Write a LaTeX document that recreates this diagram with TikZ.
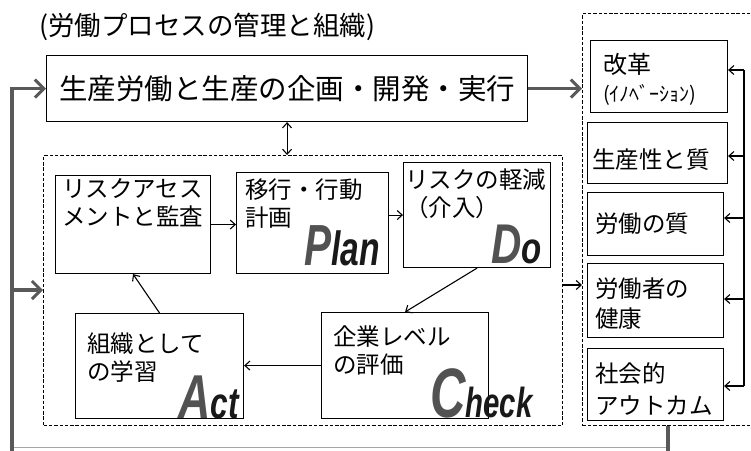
\documentclass[tikz,border=0pt]{standalone}
\usepackage{fontspec}
\newfontfamily\jp{Noto Sans CJK JP}
\newfontfamily\lat{Liberation Sans}
\usetikzlibrary{arrows.meta}
\begin{document}
\begin{tikzpicture}[x=1pt,y=-1pt,
  box/.style={draw=black, line width=1.1pt, anchor=north west, inner sep=0pt},
  dbox/.style={draw=black, line width=1.2pt, dash pattern=on 3.5pt off 1.8pt, anchor=north west, inner sep=0pt},
  txt/.style={anchor=base west, inner sep=0pt, align=left, font=\jp\fontsize{23.5}{28}\selectfont},
  thinarrow/.style={line width=1.1pt, -{Straight Barb[length=5pt,width=9pt]}},
  thickline/.style={line width=3.5pt, draw=black!65},
  thickarrow/.style={line width=3.5pt, draw=black!65, -{Straight Barb[length=9pt,width=18pt,line width=3pt]}},
  capl/.style={anchor=base west, inner sep=0pt, text=black!68},
]
\useasboundingbox (0,0) rectangle (751,450);

% title
\node[anchor=base west, inner sep=0pt, font=\jp\fontsize{26.5}{30}\selectfont] (title) at (39,35) {(労働プロセスの管理と組織)};

% top box
\node[box, minimum width=481pt, minimum height=66pt, font=\jp\fontsize{28.5}{34}\selectfont] (top) at (46,55) {生産労働と生産の企画・開発・実行};

% dashed containers
\node[dbox, minimum width=519pt, minimum height=270pt] (mid) at (43,155) {};
\node[dbox, minimum width=180pt, minimum height=412pt] (rdash) at (582,13) {};

% PDCA boxes
\node[box, minimum width=155pt, minimum height=98pt] (risk) at (55,175) {};
\node[box, minimum width=152pt, minimum height=101pt] (plan) at (236,172) {};
\node[box, minimum width=147pt, minimum height=105pt] (do) at (403,162) {};
\node[box, minimum width=168pt, minimum height=105pt] (act) at (75,313) {};
\node[box, minimum width=167pt, minimum height=106pt] (check) at (321,312) {};

\node[txt, text width=150pt] (risktxt) at (62,197) {リスクアセス\\メントと監査};
\node[txt, text width=145pt] (plantxt) at (245,198) {移行・行動\\計画};
\node[txt, text width=145pt] (dotxt) at (405,188) {リスクの軽減\\（介入）};
\node[txt, text width=160pt] (acttxt) at (87,352) {組織として\\の学習};
\node[txt, text width=160pt] (checktxt) at (333,345) {企業レベル\\の評価};

% big PDCA letters
\node[capl] (P) at (304,265) {\scalebox{0.7}[1]{\lat\bfseries\itshape\fontsize{58}{58}\selectfont P\textcolor{black!90}{\fontsize{48}{48}\selectfont lan}}};
\node[capl] (D) at (491,263) {\scalebox{0.75}[1]{\lat\bfseries\itshape\fontsize{56}{56}\selectfont D\textcolor{black!90}{\fontsize{44}{44}\selectfont o}}};
\node[capl] (A) at (178,418) {\scalebox{0.72}[1]{\lat\bfseries\itshape\fontsize{62}{62}\selectfont A\textcolor{black!90}{\fontsize{44}{44}\selectfont ct}}};
\node[capl] (C) at (430,417) {\scalebox{0.7}[1]{\lat\bfseries\itshape\fontsize{70}{70}\selectfont C\textcolor{black!90}{\fontsize{42}{42}\selectfont heck}}};

% outcome boxes
\node[box, minimum width=137pt, minimum height=72pt] (b1) at (590,40) {};
\node[box, minimum width=140pt, minimum height=61pt] (b2) at (587,122) {};
\node[box, minimum width=136pt, minimum height=63pt] (b3) at (587,192) {};
\node[box, minimum width=136pt, minimum height=74pt] (b4) at (587,263) {};
\node[box, minimum width=136pt, minimum height=72pt] (b5) at (587,348) {};

\node[anchor=base west, inner sep=0pt, font=\jp\fontsize{24}{28}\selectfont] (b1t) at (603,73) {改革};
\node[anchor=base west, inner sep=0pt, font=\jp\fontsize{20}{24}\selectfont] (b1s) at (603,101) {(ｲﾉﾍﾞｰｼｮﾝ)};
\node[txt] (b2t) at (592,168) {生産性と質};
\node[txt] (b3t) at (595,232) {労働の質};
\node[txt, text width=125pt, font=\jp\fontsize{23.5}{30}\selectfont] (b4t) at (595,297) {労働者の\\健康};
\node[txt, text width=125pt, font=\jp\fontsize{23.5}{32}\selectfont] (b5t) at (595,382) {社会的\\アウトカム};

% PDCA connectors
\draw[thinarrow] (risk.east) -- (risk.east -| plan.west);
\draw[thinarrow] (plan.east |- do.west) -- (do.west);
\draw[thinarrow] (do.south) -- (check.north);
\draw[thinarrow] (check.west) -- (check.west -| act.east);
\draw[thinarrow] (act.north) -- (risk.south);

% top <-> mid
\draw[line width=1.1pt, {Straight Barb[length=5pt,width=9pt]}-{Straight Barb[length=5pt,width=9pt]}] (top.south) -- (top.south |- mid.north);

% top -> outcomes
\draw[thickarrow] (top.east) -- (top.east -| rdash.west);

% mid -> outcomes
\coordinate (m1) at (562,285);
\draw[thinarrow] (m1) -- (m1 -| rdash.west);

% right feedback bus
\coordinate (rv1) at (744,70);
\coordinate (rv2) at (744,156);
\coordinate (rv3) at (744,218);
\coordinate (rv4) at (744,299);
\coordinate (rv5) at (744,386);
\draw[line width=1.3pt] (rv1) -- (rv5);
\draw[thinarrow] (rv1) -- (rv1 -| b1.east);
\draw[thinarrow] (rv2) -- (rv2 -| b2.east);
\draw[thinarrow] (rv3) -- (rv3 -| b3.east);
\draw[thinarrow] (rv4) -- (rv4 -| b4.east);
\draw[thinarrow] (rv5) -- (rv5 -| b5.east);

% outer loop
\coordinate (lb) at (12,452);
\coordinate (rb) at (668,452);
\coordinate (l2) at (12,290);
\draw[thickline] (rdash.south -| rb) -- (rb);
\draw[black!35, line width=1pt] (14,447) -- (666,447);
\draw[thickarrow] (lb) |- (top.west);
\draw[thickarrow] (l2) -- (l2 -| mid.west);
\end{tikzpicture}
\end{document}
